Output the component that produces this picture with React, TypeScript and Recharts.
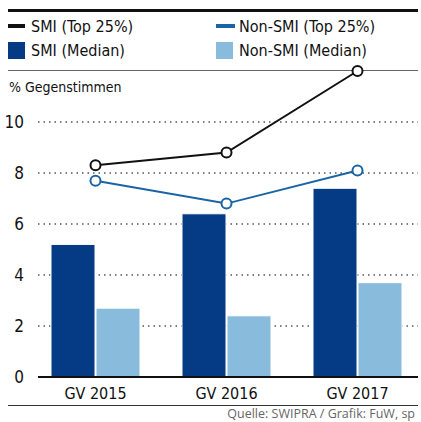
import { ComposedChart, Bar, Line, XAxis, YAxis, CartesianGrid } from "recharts";

const years = ["GV 2015", "GV 2016", "GV 2017"];
const smiTop = [8.3, 8.8, 12.0];
const nonSmiTop = [7.7, 6.8, 8.1];
const smiMedian = [5.2, 6.4, 7.4];
const nonSmiMedian = [2.7, 2.4, 3.7];
const yTicks = [0, 2, 4, 6, 8, 10];
const gridValues = [2, 4, 6, 8, 10];

const data = years.map((year, i) => ({
  year,
  smiTop: smiTop[i],
  nonSmiTop: nonSmiTop[i],
  smiMedian: smiMedian[i],
  nonSmiMedian: nonSmiMedian[i],
}));

const FONT = "'DejaVu Sans Condensed', 'Liberation Sans Narrow', Roboto, sans-serif";
const DARK = "#053a85";
const LIGHT = "#89bcdc";
const BLUE = "#1a64a6";

const legendText: React.CSSProperties = {
  position: "absolute",
  fontSize: 16,
  lineHeight: "20px",
  color: "#111",
  whiteSpace: "nowrap",
};

export default function App() {
  return (
    <div
      style={{
        position: "absolute",
        left: 0,
        top: 0,
        width: 421,
        height: 422,
        overflow: "hidden",
        background: "#fff",
        fontFamily: FONT,
        fontStretch: "condensed",
      }}
    >
      {/* header rule */}
      <div style={{ position: "absolute", left: 8, top: 9, width: 410, height: 3, background: "#111" }} />

      {/* legend */}
      <div style={{ position: "absolute", left: 8, top: 24, width: 17, height: 4, background: "#111" }} />
      <div style={{ ...legendText, left: 31, top: 17 }}>SMI (Top 25%)</div>
      <div style={{ position: "absolute", left: 216, top: 24, width: 19, height: 4, background: BLUE }} />
      <div style={{ ...legendText, left: 239, top: 17 }}>Non-SMI (Top 25%)</div>
      <div style={{ position: "absolute", left: 8, top: 42, width: 17, height: 17, background: DARK }} />
      <div style={{ ...legendText, left: 31, top: 41 }}>SMI (Median)</div>
      <div style={{ position: "absolute", left: 216, top: 42, width: 17, height: 17, background: LIGHT }} />
      <div style={{ ...legendText, left: 239, top: 41 }}>Non-SMI (Median)</div>

      <div style={{ position: "absolute", left: 8, top: 70, width: 410, height: 1, background: "#666" }} />
      <div style={{ ...legendText, fontSize: 14, left: 9, top: 77 }}>% Gegenstimmen</div>

      <div style={{ position: "absolute", left: 0, top: 0 }}>
        <ComposedChart
          width={421}
          height={422}
          data={data}
          margin={{ top: 71, right: 3, bottom: 0, left: 0 }}
          barGap={1}
          barSize={44}
        >
          <CartesianGrid
            vertical={false}
            horizontalValues={gridValues}
            stroke="#555"
            strokeDasharray="1.5 4"
            strokeWidth={1.5}
          />
          <XAxis
            dataKey="year"
            height={45}
            padding={{ left: -8, right: -5 }}
            axisLine={{ stroke: "#111", strokeWidth: 2 }}
            tickLine={false}
            tickMargin={5}
            tick={{ fontSize: 16, fill: "#111", fontFamily: FONT, fontWeight: 500 }}
          />
          <YAxis
            width={38}
            domain={[0, 12]}
            ticks={yTicks}
            axisLine={false}
            tickLine={false}
            tickSize={0}
            tickMargin={14}
            tick={{ fontSize: 17, fill: "#111", fontFamily: FONT }}
          />
          <Bar dataKey="smiMedian" fill={DARK} stroke="#fff" strokeWidth={1} isAnimationActive={false} />
          <Bar dataKey="nonSmiMedian" fill={LIGHT} stroke="#fff" strokeWidth={1} isAnimationActive={false} />
          <Line
            dataKey="nonSmiTop"
            stroke={BLUE}
            strokeWidth={2}
            dot={{ r: 5, fill: "#fff", stroke: BLUE, strokeWidth: 2 }}
            isAnimationActive={false}
          />
          <Line
            dataKey="smiTop"
            stroke="#111"
            strokeWidth={2}
            dot={{ r: 5, fill: "#fff", stroke: "#111", strokeWidth: 2 }}
            isAnimationActive={false}
          />
        </ComposedChart>
      </div>

      <div style={{ position: "absolute", left: 8, top: 405, width: 410, height: 1, background: "#333" }} />
      <div
        style={{
          position: "absolute",
          right: 6,
          top: 407,
          fontSize: 12.5,
          lineHeight: "14px",
          color: "#666",
          whiteSpace: "nowrap",
          fontFamily: "'Open Sans', sans-serif",
          fontStretch: "normal",
        }}
      >
        Quelle: SWIPRA / Grafik: FuW, sp
      </div>
    </div>
  );
}
